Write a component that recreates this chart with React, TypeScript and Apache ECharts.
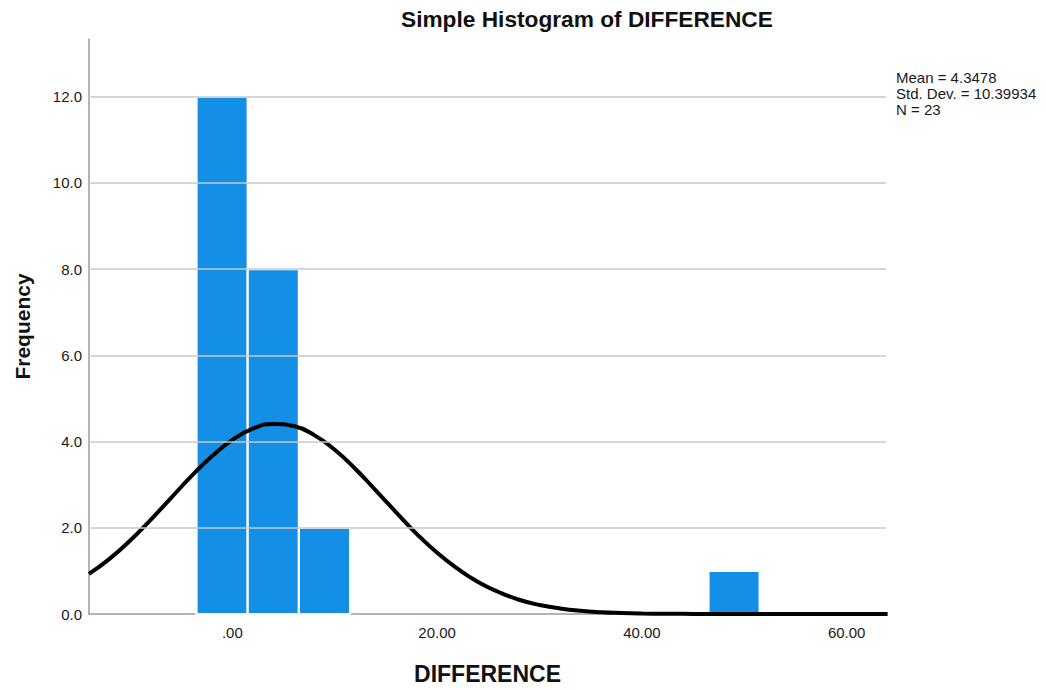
import React, { useEffect, useRef } from "react";
import * as echarts from "echarts";

// Histogram bins (DIFFERENCE), bin width 5
const binStarts = [-3.5, 1.5, 6.5, 46.5];
const binEnds = [1.5, 6.5, 11.5, 51.5];
const binCounts = [12, 8, 2, 1];

// Fitted normal curve
const curveX = [-14, -12, -10, -8, -6, -4, -2, 0, 2, 4, 6, 8, 10, 12, 14, 16, 18, 20, 22, 24, 26, 28, 30, 32, 34, 36, 38, 40, 42, 44, 46, 48, 50, 52, 54, 56, 58, 60, 62, 64];
const curveY = [0.93, 1.28, 1.7, 2.18, 2.69, 3.2, 3.66, 4.04, 4.3, 4.41, 4.36, 4.15, 3.81, 3.37, 2.87, 2.36, 1.86, 1.42, 1.05, 0.74, 0.51, 0.33, 0.21, 0.13, 0.076, 0.043, 0.024, 0.012, 0.006, 0.003, 0.001, 0, 0, 0, 0, 0, 0, 0, 0, 0];

const xTickValues = [0, 20, 40, 60];
const yTickValues = [0, 2, 4, 6, 8, 10, 12];
const gridValues = [2, 4, 6, 8, 10, 12];

const statsLines = ["Mean = 4.3478", "Std. Dev. = 10.39934", "N = 23"];

const FONT = "'Liberation Sans', Arial, sans-serif";

export default function App() {
  const ref = useRef<HTMLDivElement>(null);
  useEffect(() => {
    if (!ref.current) return;
    const chart = echarts.init(ref.current, null, { renderer: "svg" });
    const barData = binStarts.map((s, i) => [s, binEnds[i], binCounts[i]]);
    const curveData = curveX.map((x, i) => [x, curveY[i]]);
    chart.setOption({
      animation: false,
      backgroundColor: "#ffffff",
      textStyle: { fontFamily: FONT },
      title: {
        text: "Simple Histogram of DIFFERENCE",
        left: 401,
        top: 7,
        padding: 0,
        textStyle: { fontFamily: FONT, fontSize: 22.7, fontWeight: "bold", color: "#111" },
      },
      grid: { left: 89, top: 39, width: 797, height: 575, containLabel: false },
      xAxis: {
        type: "value",
        min: -14,
        max: 63.84,
        name: "DIFFERENCE",
        nameLocation: "middle",
        nameGap: 48,
        nameTextStyle: { fontFamily: FONT, fontSize: 23, fontWeight: "bold", color: "#111" },
        axisLine: { show: true, onZero: false, lineStyle: { color: "#9a9a9a", width: 1.5 } },
        axisTick: { show: false },
        splitLine: { show: false },
        axisLabel: {
          customValues: xTickValues,
          margin: 11,
          fontFamily: FONT,
          fontSize: 15,
          color: "#1a1a1a",
          formatter: (v: number) => (v === 0 ? ".00" : v.toFixed(2)),
        },
      },
      yAxis: {
        type: "value",
        min: 0,
        max: 13.34,
        name: "Frequency",
        nameLocation: "middle",
        nameGap: 56,
        nameTextStyle: { fontFamily: FONT, fontSize: 21, fontWeight: "bold", color: "#111" },
        axisLine: { show: true, onZero: false, lineStyle: { color: "#9a9a9a", width: 1.5 } },
        axisTick: { show: false },
        splitLine: { show: false },
        axisLabel: {
          customValues: yTickValues,
          margin: 7,
          fontFamily: FONT,
          fontSize: 15,
          color: "#1a1a1a",
          formatter: (v: number) => v.toFixed(1),
        },
      },
      series: [
        {
          type: "line",
          data: [],
          z: 1,
          silent: true,
          markLine: {
            silent: true,
            symbol: ["none", "none"],
            label: { show: false },
            lineStyle: { color: "#c8c8c8", width: 1.5, type: "solid" },
            data: gridValues.map((v) => ({ yAxis: v })),
          },
        },
        {
          type: "custom",
          z: 2,
          data: barData,
          encode: { x: [0, 1], y: 2 },
          renderItem: (params: any, api: any) => {
            const x0 = api.value(0);
            const x1 = api.value(1);
            const c = api.value(2);
            const p0 = api.coord([x0, c]);
            const p1 = api.coord([x1, 0]);
            return {
              type: "rect",
              shape: { x: p0[0], y: p0[1], width: p1[0] - p0[0], height: p1[1] - p0[1] },
              style: { fill: "#1390e6", stroke: "#ffffff", lineWidth: 2.2 },
            };
          },
        },
        {
          type: "line",
          z: 3,
          data: curveData,
          smooth: true,
          showSymbol: false,
          clip: true,
          silent: true,
          lineStyle: { color: "#000", width: 4 },
        },
      ],
      graphic: [
        {
          type: "text",
          left: 896,
          top: 69,
          style: {
            text: statsLines.join("\n"),
            font: `15px ${FONT}`,
            lineHeight: 16,
            fill: "#1a1a1a",
          },
        },
      ],
    });
    return () => chart.dispose();
  }, []);
  return <div ref={ref} style={{ position: "absolute", left: 0, top: 0, width: 1046, height: 690 }} />;
}
